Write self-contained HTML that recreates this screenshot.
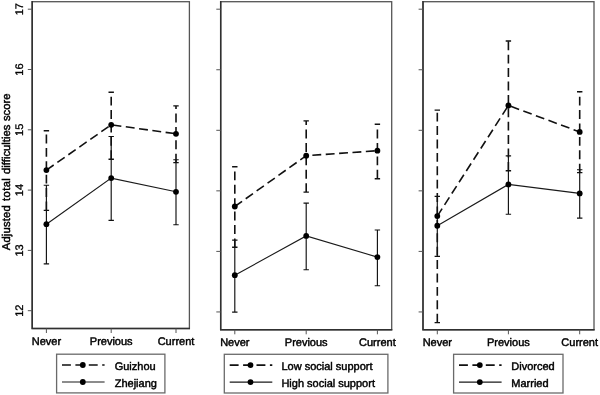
<!DOCTYPE html>
<html><head><meta charset="utf-8"><title>Adjusted total difficulties score</title>
<style>html,body{margin:0;padding:0;background:#fff}text{font-family:"Liberation Sans",Arial,Helvetica,sans-serif;font-size:11px;fill:#000;stroke:#000;stroke-width:.45px}text.r{stroke-width:.3px}svg{display:block;will-change:transform;text-rendering:geometricPrecision}</style></head>
<body>
<svg width="600" height="395" viewBox="0 0 600 395">
<rect width="600" height="395" fill="#fff"/>
<rect x="32.2" y="1.7" width="157.20" height="326.80" fill="none" stroke="#555" stroke-width="1.3"/>
<path d="M32.2 1.10V328.5H190.00" fill="none" stroke="#303030" stroke-width="1.5" stroke-linejoin="miter"/>
<line x1="27.80" y1="310.70" x2="32.20" y2="310.70" stroke="#555" stroke-width="1"/>
<text class="r" transform="translate(22.5,310.70) rotate(-90)" text-anchor="middle">12</text>
<line x1="27.80" y1="250.40" x2="32.20" y2="250.40" stroke="#555" stroke-width="1"/>
<text class="r" transform="translate(22.5,250.40) rotate(-90)" text-anchor="middle">13</text>
<line x1="27.80" y1="190.10" x2="32.20" y2="190.10" stroke="#555" stroke-width="1"/>
<text class="r" transform="translate(22.5,190.10) rotate(-90)" text-anchor="middle">14</text>
<line x1="27.80" y1="129.80" x2="32.20" y2="129.80" stroke="#555" stroke-width="1"/>
<text class="r" transform="translate(22.5,129.80) rotate(-90)" text-anchor="middle">15</text>
<line x1="27.80" y1="69.50" x2="32.20" y2="69.50" stroke="#555" stroke-width="1"/>
<text class="r" transform="translate(22.5,69.50) rotate(-90)" text-anchor="middle">16</text>
<line x1="27.80" y1="9.20" x2="32.20" y2="9.20" stroke="#555" stroke-width="1"/>
<text class="r" transform="translate(22.5,9.20) rotate(-90)" text-anchor="middle">17</text>
<text class="r" style="stroke-width:.45px;font-size:11.25px" transform="translate(9.7,0) rotate(-90)"><tspan x="-250.3" letter-spacing="0.19">Adjusted </tspan><tspan x="-201.0" letter-spacing="0.4">total </tspan><tspan x="-173.9">difficulties </tspan><tspan x="-121.1">score</tspan></text>
<line x1="46.40" y1="328.50" x2="46.40" y2="333.00" stroke="#555" stroke-width="1"/>
<text x="46.40" y="344.50" text-anchor="middle">Never</text>
<line x1="111.20" y1="328.50" x2="111.20" y2="333.00" stroke="#555" stroke-width="1"/>
<text x="111.20" y="344.50" text-anchor="middle">Previous</text>
<line x1="176.00" y1="328.50" x2="176.00" y2="333.00" stroke="#555" stroke-width="1"/>
<text x="176.00" y="344.50" text-anchor="middle">Current</text>
<path d="M46.40 185.20V263.90M43.70 185.20H49.10M43.70 263.90H49.10" stroke="#111" stroke-width="1.15" fill="none"/>
<path d="M111.20 136.50V220.40M108.50 136.50H113.90M108.50 220.40H113.90" stroke="#111" stroke-width="1.15" fill="none"/>
<path d="M176.00 159.70V224.70M173.30 159.70H178.70M173.30 224.70H178.70" stroke="#111" stroke-width="1.15" fill="none"/>
<polyline points="46.40,224.20 111.20,178.10 176.00,191.80" stroke="#1a1a1a" stroke-width="1.1" fill="none"/>
<path d="M46.40 210.40V130.70" stroke="#111" stroke-width="1.6" stroke-dasharray="8.9 4.5" fill="none"/>
<path d="M43.70 130.70H49.10M43.70 210.40H49.10" stroke="#111" stroke-width="1.4" fill="none"/>
<path d="M111.20 159.20V92.20" stroke="#111" stroke-width="1.6" stroke-dasharray="8.9 4.5" fill="none"/>
<path d="M108.50 92.20H113.90M108.50 159.20H113.90" stroke="#111" stroke-width="1.4" fill="none"/>
<path d="M176.00 162.60V105.90" stroke="#111" stroke-width="1.6" stroke-dasharray="8.9 4.5" fill="none"/>
<path d="M173.30 105.90H178.70M173.30 162.60H178.70" stroke="#111" stroke-width="1.4" fill="none"/>
<polyline points="46.40,170.10 111.20,124.80 176.00,133.80" stroke="#111" stroke-width="1.6" stroke-dasharray="8.9 4.5" fill="none"/>
<circle cx="46.40" cy="224.20" r="2.9" fill="#000"/>
<circle cx="111.20" cy="178.10" r="2.9" fill="#000"/>
<circle cx="176.00" cy="191.80" r="2.9" fill="#000"/>
<circle cx="46.40" cy="170.10" r="2.9" fill="#000"/>
<circle cx="111.20" cy="124.80" r="2.9" fill="#000"/>
<circle cx="176.00" cy="133.80" r="2.9" fill="#000"/>
<rect x="56.6" y="354.2" width="108.30" height="38.70" fill="#fff" stroke="#6a6a6a" stroke-width="1.3"/>
<line x1="62.00" y1="365.00" x2="104.60" y2="365.00" stroke="#111" stroke-width="1.6" stroke-dasharray="8.9 4.5"/>
<line x1="62.00" y1="382.00" x2="104.60" y2="382.00" stroke="#1a1a1a" stroke-width="1.1"/>
<circle cx="82.80" cy="365.00" r="2.9" fill="#000"/><circle cx="82.80" cy="382.00" r="2.9" fill="#000"/>
<text x="114.70" y="369.80">Guizhou</text>
<text x="114.70" y="386.80">Zhejiang</text>
<rect x="220.7" y="1.7" width="171.00" height="328.10" fill="none" stroke="#555" stroke-width="1.3"/>
<path d="M220.7 1.10V329.8H392.30" fill="none" stroke="#303030" stroke-width="1.5" stroke-linejoin="miter"/>
<line x1="216.30" y1="311.95" x2="220.70" y2="311.95" stroke="#555" stroke-width="1"/>
<line x1="216.30" y1="251.40" x2="220.70" y2="251.40" stroke="#555" stroke-width="1"/>
<line x1="216.30" y1="190.85" x2="220.70" y2="190.85" stroke="#555" stroke-width="1"/>
<line x1="216.30" y1="130.30" x2="220.70" y2="130.30" stroke="#555" stroke-width="1"/>
<line x1="216.30" y1="69.75" x2="220.70" y2="69.75" stroke="#555" stroke-width="1"/>
<line x1="216.30" y1="9.20" x2="220.70" y2="9.20" stroke="#555" stroke-width="1"/>
<line x1="234.80" y1="329.80" x2="234.80" y2="334.30" stroke="#555" stroke-width="1"/>
<text x="234.80" y="345.80" text-anchor="middle">Never</text>
<line x1="306.20" y1="329.80" x2="306.20" y2="334.30" stroke="#555" stroke-width="1"/>
<text x="306.20" y="345.80" text-anchor="middle">Previous</text>
<line x1="377.40" y1="329.80" x2="377.40" y2="334.30" stroke="#555" stroke-width="1"/>
<text x="377.40" y="345.80" text-anchor="middle">Current</text>
<path d="M234.80 240.10V312.10M232.10 240.10H237.50M232.10 312.10H237.50" stroke="#111" stroke-width="1.15" fill="none"/>
<path d="M306.20 203.10V269.70M303.50 203.10H308.90M303.50 269.70H308.90" stroke="#111" stroke-width="1.15" fill="none"/>
<path d="M377.40 230.00V285.70M374.70 230.00H380.10M374.70 285.70H380.10" stroke="#111" stroke-width="1.15" fill="none"/>
<polyline points="234.80,275.20 306.20,235.90 377.40,257.10" stroke="#1a1a1a" stroke-width="1.1" fill="none"/>
<path d="M234.80 247.30V166.70" stroke="#111" stroke-width="1.6" stroke-dasharray="8.9 4.5" fill="none"/>
<path d="M232.10 166.70H237.50M232.10 247.30H237.50" stroke="#111" stroke-width="1.4" fill="none"/>
<path d="M306.20 192.10V120.90" stroke="#111" stroke-width="1.6" stroke-dasharray="8.9 4.5" fill="none"/>
<path d="M303.50 120.90H308.90M303.50 192.10H308.90" stroke="#111" stroke-width="1.4" fill="none"/>
<path d="M377.40 178.70V124.20" stroke="#111" stroke-width="1.6" stroke-dasharray="8.9 4.5" fill="none"/>
<path d="M374.70 124.20H380.10M374.70 178.70H380.10" stroke="#111" stroke-width="1.4" fill="none"/>
<polyline points="234.80,206.50 306.20,155.70 377.40,150.70" stroke="#111" stroke-width="1.6" stroke-dasharray="8.9 4.5" fill="none"/>
<circle cx="234.80" cy="275.20" r="2.9" fill="#000"/>
<circle cx="306.20" cy="235.90" r="2.9" fill="#000"/>
<circle cx="377.40" cy="257.10" r="2.9" fill="#000"/>
<circle cx="234.80" cy="206.50" r="2.9" fill="#000"/>
<circle cx="306.20" cy="155.70" r="2.9" fill="#000"/>
<circle cx="377.40" cy="150.70" r="2.9" fill="#000"/>
<rect x="224.3" y="354.3" width="163.60" height="38.70" fill="#fff" stroke="#6a6a6a" stroke-width="1.3"/>
<line x1="229.70" y1="365.10" x2="272.30" y2="365.10" stroke="#111" stroke-width="1.6" stroke-dasharray="8.9 4.5"/>
<line x1="229.70" y1="382.10" x2="272.30" y2="382.10" stroke="#1a1a1a" stroke-width="1.1"/>
<circle cx="250.50" cy="365.10" r="2.9" fill="#000"/><circle cx="250.50" cy="382.10" r="2.9" fill="#000"/>
<text x="281.40" y="369.90">Low social support</text>
<text x="281.40" y="386.90">High social support</text>
<rect x="423.0" y="1.7" width="171.00" height="328.10" fill="none" stroke="#555" stroke-width="1.3"/>
<path d="M423.0 1.10V329.8H594.60" fill="none" stroke="#303030" stroke-width="1.5" stroke-linejoin="miter"/>
<line x1="418.60" y1="311.95" x2="423.00" y2="311.95" stroke="#555" stroke-width="1"/>
<line x1="418.60" y1="251.40" x2="423.00" y2="251.40" stroke="#555" stroke-width="1"/>
<line x1="418.60" y1="190.85" x2="423.00" y2="190.85" stroke="#555" stroke-width="1"/>
<line x1="418.60" y1="130.30" x2="423.00" y2="130.30" stroke="#555" stroke-width="1"/>
<line x1="418.60" y1="69.75" x2="423.00" y2="69.75" stroke="#555" stroke-width="1"/>
<line x1="418.60" y1="9.20" x2="423.00" y2="9.20" stroke="#555" stroke-width="1"/>
<line x1="437.30" y1="329.80" x2="437.30" y2="334.30" stroke="#555" stroke-width="1"/>
<text x="437.30" y="345.80" text-anchor="middle">Never</text>
<line x1="508.40" y1="329.80" x2="508.40" y2="334.30" stroke="#555" stroke-width="1"/>
<text x="508.40" y="345.80" text-anchor="middle">Previous</text>
<line x1="579.70" y1="329.80" x2="579.70" y2="334.30" stroke="#555" stroke-width="1"/>
<text x="579.70" y="345.80" text-anchor="middle">Current</text>
<path d="M437.30 196.30V256.30M434.60 196.30H440.00M434.60 256.30H440.00" stroke="#111" stroke-width="1.15" fill="none"/>
<path d="M508.40 155.90V214.20M505.70 155.90H511.10M505.70 214.20H511.10" stroke="#111" stroke-width="1.15" fill="none"/>
<path d="M579.70 169.70V218.10M577.00 169.70H582.40M577.00 218.10H582.40" stroke="#111" stroke-width="1.15" fill="none"/>
<polyline points="437.30,225.70 508.40,184.40 579.70,193.40" stroke="#1a1a1a" stroke-width="1.1" fill="none"/>
<path d="M437.30 322.60V110.10" stroke="#111" stroke-width="1.6" stroke-dasharray="8.9 4.5" fill="none"/>
<path d="M434.60 110.10H440.00M434.60 322.60H440.00" stroke="#111" stroke-width="1.4" fill="none"/>
<path d="M508.40 170.80V41.00" stroke="#111" stroke-width="1.6" stroke-dasharray="8.9 4.5" fill="none"/>
<path d="M505.70 41.00H511.10M505.70 170.80H511.10" stroke="#111" stroke-width="1.4" fill="none"/>
<path d="M579.70 172.60V91.70" stroke="#111" stroke-width="1.6" stroke-dasharray="8.9 4.5" fill="none"/>
<path d="M577.00 91.70H582.40M577.00 172.60H582.40" stroke="#111" stroke-width="1.4" fill="none"/>
<polyline points="437.30,216.10 508.40,105.50 579.70,131.90" stroke="#111" stroke-width="1.6" stroke-dasharray="8.9 4.5" fill="none"/>
<circle cx="437.30" cy="225.70" r="2.9" fill="#000"/>
<circle cx="508.40" cy="184.40" r="2.9" fill="#000"/>
<circle cx="579.70" cy="193.40" r="2.9" fill="#000"/>
<circle cx="437.30" cy="216.10" r="2.9" fill="#000"/>
<circle cx="508.40" cy="105.50" r="2.9" fill="#000"/>
<circle cx="579.70" cy="131.90" r="2.9" fill="#000"/>
<rect x="453.6" y="354.3" width="109.40" height="38.70" fill="#fff" stroke="#6a6a6a" stroke-width="1.3"/>
<line x1="459.00" y1="365.10" x2="501.60" y2="365.10" stroke="#111" stroke-width="1.6" stroke-dasharray="8.9 4.5"/>
<line x1="459.00" y1="382.10" x2="501.60" y2="382.10" stroke="#1a1a1a" stroke-width="1.1"/>
<circle cx="479.80" cy="365.10" r="2.9" fill="#000"/><circle cx="479.80" cy="382.10" r="2.9" fill="#000"/>
<text x="511.30" y="369.90">Divorced</text>
<text x="511.30" y="386.90">Married</text>
</svg>
</body></html>
